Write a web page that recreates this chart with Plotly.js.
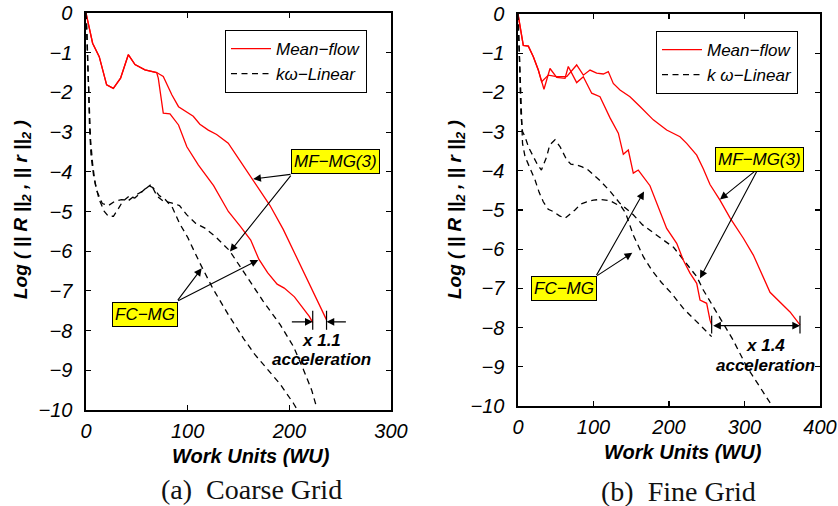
<!DOCTYPE html>
<html>
<head>
<meta charset="utf-8">
<script src="https://cdn.plot.ly/plotly-3.0.1.min.js"></script>
<style>html,body{margin:0;padding:0;background:#fff;}#chart{width:838px;height:506px;}</style>
</head>
<body>
<div id="chart"></div>
<script>
// ---------- (a) Coarse Grid ----------
const aMeanFlowMFx = [0,6.5,13,20.3,26.9,34,41.6,48.2,58,69.5,76,84.4,91,105.5,112,120.3,128.5,139.9,151.4,167,181,194,207,217,227,236.6];
const aMeanFlowMFy = [0,-0.76,-1.1,-1.81,-1.9,-1.64,-1.05,-1.3,-1.43,-1.5,-1.6,-2.06,-2.36,-2.6,-2.8,-2.95,-3.06,-3.28,-3.72,-4.33,-4.85,-5.45,-6.15,-6.7,-7.2,-7.73];
const aMeanFlowFCx = [0,6.5,13,20.3,26.9,34,41.6,48.2,58,69.5,71.1,76,82.6,91,99.2,110.6,125.5,140,152,162,170,178.6,188,195,205,213,219.8,223];
const aMeanFlowFCy = [0,-0.76,-1.1,-1.81,-1.9,-1.64,-1.05,-1.3,-1.43,-1.5,-1.64,-2.52,-2.54,-2.82,-3.37,-3.83,-4.35,-5.0,-5.38,-5.72,-6.2,-6.54,-6.83,-6.93,-7.15,-7.42,-7.65,-7.8];
const aKwMFx = [0,1,2.5,3.5,5,7.5,11,16,22,28,35,42,48,55,60,64,70,76,84,92,99,108,117,128,141,158,174,191,204,214,222,227];
const aKwMFy = [0,-0.6,-1.8,-2.9,-3.6,-4.1,-4.5,-4.8,-4.85,-4.75,-4.7,-4.72,-4.6,-4.5,-4.4,-4.32,-4.62,-4.74,-4.78,-4.85,-5.08,-5.3,-5.42,-5.65,-5.98,-6.62,-7.25,-7.85,-8.4,-8.99,-9.5,-9.95];
const aKwFCx = [0,1,2,3,4.5,6.5,9,13,18,22,27,32,36,42,48,55,62,66,72,78,85,92,100,112,125,140,155,166,178,191,204,208];
const aKwFCy = [0,-0.5,-1.5,-2.4,-3.2,-3.8,-4.3,-4.7,-5.0,-5.12,-5.12,-4.92,-4.75,-4.62,-4.66,-4.5,-4.35,-4.4,-4.6,-4.7,-4.9,-5.3,-5.65,-6.3,-6.95,-7.6,-8.2,-8.6,-8.95,-9.35,-9.83,-10];

// ---------- (b) Fine Grid ----------
const bMeanFlowMFx = [0,7,13.7,20.3,26.9,31.3,40.2,51.2,64.5,77.7,86.5,95.4,104.2,113,119.6,126.2,135.1,148.3,161.6,179.2,196.9,214.6,223.4,236.7,245.4,254.3,267.5,280.8,298.5,311.7,333.8,347,360.3,373.5];
const bMeanFlowMFy = [0,-0.8,-0.82,-1.09,-1.43,-1.73,-1.56,-1.6,-1.6,-1.3,-1.56,-1.43,-1.51,-1.53,-1.47,-1.77,-1.94,-2.11,-2.36,-2.7,-2.96,-3.13,-3.3,-3.6,-3.95,-4.35,-4.75,-5.2,-5.72,-6.15,-7.1,-7.36,-7.6,-7.93];
const bMeanFlowFCx = [0,7,13.7,20.3,26.9,34.4,42.4,51.2,62.3,66.6,77.7,86.5,97.6,108.6,121.9,132.9,139.5,146.1,152.7,159.3,174.8,183.7,196.9,210.2,219,227.8,236.7,241.1,249.9,254.3,256.5];
const bMeanFlowFCy = [0,-0.8,-0.82,-1.09,-1.43,-1.92,-1.39,-1.62,-1.64,-1.34,-1.75,-1.6,-2.02,-2.11,-2.65,-3.04,-3.58,-3.47,-4.06,-3.98,-4.38,-4.83,-5.47,-5.85,-6.28,-6.61,-6.87,-7.3,-7.38,-7.81,-7.93];
const bKwMFx = [0,1,2,3,4,6,9.3,14,20,26,31,35,38,42,49,55.6,64.5,70,77.7,85,93,108.6,121.9,135,152.7,165,180,195,206,223.4,236.7,245.4,258.7,272,285,303,320.5,335];
const bKwMFy = [0,-0.5,-1.2,-2,-2.6,-3.0,-3.13,-3.4,-3.64,-3.85,-3.98,-3.8,-3.64,-3.34,-3.21,-3.38,-3.72,-3.83,-3.85,-3.9,-3.98,-4.25,-4.52,-4.83,-5.12,-5.38,-5.6,-5.8,-5.95,-6.36,-6.7,-7.04,-7.47,-7.89,-8.32,-9.0,-9.51,-9.95];
const bKwFCx = [0,1,2.5,3.5,4.5,6,9.3,15,22.5,28,33.5,40,46.8,55,62.3,68,75.5,83,91,100,108.6,121.9,130,137,142.6,152.7,166,177,190,203.6,219,238.8,256.5];
const bKwFCy = [0,-0.6,-1.5,-2.3,-3.0,-3.3,-3.64,-3.9,-4.23,-4.55,-4.79,-4.98,-5.04,-5.15,-5.21,-5.12,-5.0,-4.85,-4.79,-4.75,-4.73,-4.76,-4.85,-4.92,-5.08,-5.64,-6.19,-6.53,-6.85,-7.13,-7.51,-7.89,-8.23];

const legendNames = ['Mean\u2212flow', 'k\u03c9\u2212Linear', 'k \u03c9\u2212Linear'];
const panelCaptions = ['(a)\u00a0 Coarse Grid', '(b)\u00a0 Fine Grid'];
const xTitle = 'Work Units (WU)';
const yTitle = 'Log ( || <i>R</i> ||<sub>2</sub> , || <i>r</i> ||<sub>2</sub> )';
const boxLabels = ['MF\u2212MG(3)', 'FC\u2212MG'];
const accelLabels = ['x 1.1', 'x 1.4'];

// ---------- helpers ----------
const W = 838, H = 506;
const PX = x => x / W, PY = y => 1 - y / H;
const SANS = 'Liberation Sans, Arial, Helvetica, sans-serif';
const RED = '#ff0000';
const DASH = '6px,4.5px';
const last = a => a[a.length - 1];

function line(x, y, xa, ya, color, dash, name, show, legend) {
  return {x, y, xaxis: xa, yaxis: ya, type: 'scatter', mode: 'lines',
    line: {color, width: 1.3, dash}, name, showlegend: show, legend,
    hoverinfo: 'skip'};
}

const traces = [
  line(aMeanFlowMFx, aMeanFlowMFy, 'x', 'y', RED, 'solid', legendNames[0], true, 'legend'),
  line(aKwMFx, aKwMFy, 'x', 'y', '#000', DASH, legendNames[1], true, 'legend'),
  line(aMeanFlowFCx, aMeanFlowFCy, 'x', 'y', RED, 'solid', legendNames[0], false, 'legend'),
  line(aKwFCx, aKwFCy, 'x', 'y', '#000', DASH, legendNames[1], false, 'legend'),
  line(bMeanFlowMFx, bMeanFlowMFy, 'x2', 'y2', RED, 'solid', legendNames[0], true, 'legend2'),
  line(bKwMFx, bKwMFy, 'x2', 'y2', '#000', DASH, legendNames[2], true, 'legend2'),
  line(bMeanFlowFCx, bMeanFlowFCy, 'x2', 'y2', RED, 'solid', legendNames[0], false, 'legend2'),
  line(bKwFCx, bKwFCy, 'x2', 'y2', '#000', DASH, legendNames[2], false, 'legend2'),
];

function axis(domain, range, dtick, anchor, isY) {
  const a = {domain, range, dtick, anchor, autorange: false,
    showgrid: false, zeroline: false, showline: true, linecolor: '#000', linewidth: 1.6,
    mirror: 'ticks', ticks: 'inside', ticklen: 5, tickwidth: 1.2, tickcolor: '#000',
    tickfont: {family: SANS, size: 20, style: 'italic', color: '#000'}};
  a.ticklabelstandoff = isY ? 8 : 2;
  return a;
}

const legendCommon = {xanchor: 'left', yanchor: 'top', bordercolor: '#000', borderwidth: 1,
  bgcolor: '#fff', font: {family: SANS, size: 17, style: 'italic', color: '#000'},
  tracegroupgap: 0, itemwidth: 40};

const annotations = [];
function txt(x, y, text, opts) {
  annotations.push(Object.assign({xref: 'paper', yref: 'paper', x: PX(x), y: PY(y), text,
    showarrow: false, xanchor: 'center', yanchor: 'middle',
    font: {family: SANS, size: 17, style: 'italic', color: '#000'}}, opts || {}));
}
function box(x, y, text) {
  txt(x, y, text, {bgcolor: '#ffff00', bordercolor: '#000', borderwidth: 1, borderpad: 2});
}
function arrow(xr, yr, hx, hy, tx, ty, side) {
  annotations.push({xref: xr, yref: yr, axref: xr, ayref: yr, x: hx, y: hy, ax: tx, ay: ty,
    text: '', showarrow: true, arrowhead: 2, arrowsize: 1.4, arrowwidth: 1.1,
    arrowcolor: '#000', standoff: 0, startstandoff: 0, arrowside: side || 'end'});
}

// axis titles & captions
const titleFont = {family: SANS, size: 20, style: 'italic', weight: 'bold', color: '#000'};
const ytitleFont = {family: SANS, size: 19, style: 'italic', weight: 'bold', color: '#000'};
const capFont = {family: 'Liberation Serif, Times New Roman, serif', size: 28, color: '#111'};
txt(251, 456, xTitle, {font: titleFont});
txt(683, 452, xTitle, {font: titleFont});
txt(22, 210, yTitle, {textangle: -90, font: ytitleFont});
txt(456, 210, yTitle, {textangle: -90, font: ytitleFont});
txt(251, 489, panelCaptions[0], {font: capFont});
txt(678, 491, panelCaptions[1], {font: capFont});

// labelled boxes with arrows (panel a)
arrow('x', 'y', 164.5, -4.18, 202.6, -4.06);
arrow('x', 'y', 141.6, -6.01, 202.6, -4.06);
arrow('x', 'y', 113.8, -6.43, 89.2, -7.27);
arrow('x', 'y', 169.4, -6.22, 89.2, -7.27);
box(335.5, 161.5, boxLabels[0]);
box(144.5, 314, boxLabels[1]);
// panel b
arrow('x2', 'y2', 267.5, -4.73, 318.3, -3.94);
arrow('x2', 'y2', 241.1, -6.74, 318.3, -3.94);
arrow('x2', 'y2', 166.9, -4.53, 102.9, -6.70);
arrow('x2', 'y2', 151.4, -6.09, 102.9, -6.70);
box(759.7, 159.5, boxLabels[0]);
box(563.7, 288.5, boxLabels[1]);

// acceleration markers
const aEndFC = last(aMeanFlowFCx), aEndMF = last(aMeanFlowMFx);
const bEndFC = last(bMeanFlowFCx), bEndMF = last(bMeanFlowMFx);
arrow('x', 'y', aEndFC, -7.78, aEndFC - 22, -7.78);
arrow('x', 'y', aEndMF, -7.78, aEndMF + 20.5, -7.78);
arrow('x2', 'y2', bEndMF, -7.95, bEndFC, -7.95, 'end+start');
const bold = {font: {family: SANS, size: 17, style: 'italic', weight: 'bold', color: '#000'}};
txt(321.7, 340, accelLabels[0], bold);
txt(321.7, 359.5, 'acceleration', bold);
txt(765.5, 345, accelLabels[1], bold);
txt(765.5, 365, 'acceleration', bold);

const shapes = [
  {type: 'line', xref: 'x', yref: 'y', x0: aEndFC, x1: aEndFC, y0: -7.5, y1: -7.98, line: {color: '#000', width: 1.2}},
  {type: 'line', xref: 'x', yref: 'y', x0: aEndMF, x1: aEndMF, y0: -7.5, y1: -7.98, line: {color: '#000', width: 1.2}},
  {type: 'line', xref: 'x2', yref: 'y2', x0: bEndFC, x1: bEndFC, y0: -7.7, y1: -8.15, line: {color: '#000', width: 1.2}},
  {type: 'line', xref: 'x2', yref: 'y2', x0: bEndMF, x1: bEndMF, y0: -7.7, y1: -8.15, line: {color: '#000', width: 1.2}},
];

const layout = {
  width: W, height: H, margin: {l: 0, r: 0, t: 0, b: 0},
  paper_bgcolor: '#fff', plot_bgcolor: '#fff',
  font: {family: SANS, color: '#000'},
  xaxis: axis([PX(86), PX(391)], [0, 300], 100, 'y', false),
  yaxis: axis([PY(410), PY(13)], [-10, 0], 1, 'x', true),
  xaxis2: axis([PX(518), PX(820)], [0, 400], 100, 'y2', false),
  yaxis2: axis([PY(406), PY(14)], [-10, 0], 1, 'x2', true),
  legend: Object.assign({x: PX(225), y: PY(30)}, legendCommon),
  legend2: Object.assign({x: PX(656), y: PY(31)}, legendCommon),
  annotations, shapes, showlegend: true,
};

Plotly.newPlot('chart', traces, layout, {staticPlot: true, displayModeBar: false});
</script>
</body>
</html>
